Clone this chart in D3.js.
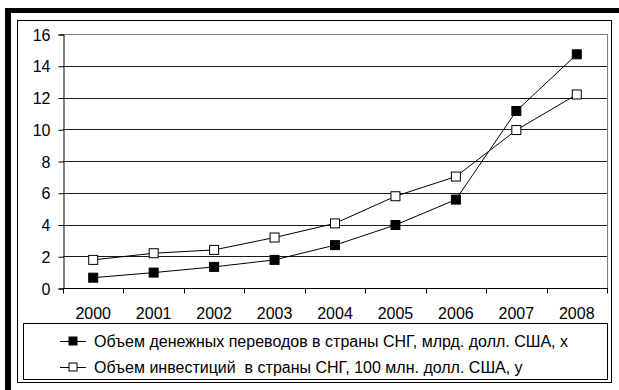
<!DOCTYPE html>
<html>
<head>
<meta charset="utf-8">
<script src="https://cdn.jsdelivr.net/npm/d3@7"></script>
<style>
  html, body { margin: 0; padding: 0; background: #fff; }
  svg { display: block; }
  text { font-family: "Liberation Sans", Arial, sans-serif; fill: #000; }
</style>
</head>
<body>
<svg id="chart" width="619" height="390"></svg>
<script>
// Years on the category axis
const years = ["2000", "2001", "2002", "2003", "2004", "2005", "2006", "2007", "2008"];
// Remittances to CIS countries, bn USD (x)
const remittances = [0.65, 0.97, 1.33, 1.77, 2.7, 3.97, 5.57, 11.15, 14.72];
// Investments to CIS countries, 100 mn USD (y)
const investments = [1.77, 2.19, 2.4, 3.18, 4.07, 5.78, 7.02, 9.95, 12.19];
// Value axis ticks
const yTicks = [0, 2, 4, 6, 8, 10, 12, 14, 16];
// Legend labels
const legendLabels = [
  "Объем денежных переводов в страны СНГ, млрд. долл. США, х",
  "Объем инвестиций  в страны СНГ, 100 млн. долл. США, у"
];

const FONT = "Liberation Sans";
const svg = d3.select("#chart");

// Heavy frame along top and left edges
svg.append("rect").attr("x", 5).attr("y", 8).attr("width", 614).attr("height", 5).attr("fill", "#000");
svg.append("rect").attr("x", 5).attr("y", 8).attr("width", 6).attr("height", 382).attr("fill", "#000");

// Chart area frame
svg.append("rect").attr("x", 17.5).attr("y", 20.5).attr("width", 594).attr("height", 362)
  .attr("fill", "#fff").attr("stroke", "#000").attr("stroke-width", 1);

const plot = { left: 63, right: 607, top: 34, bottom: 288 };

const x = d3.scaleBand().domain(years).range([plot.left, plot.right]);
const y = d3.scaleLinear().domain([0, 16]).range([plot.bottom, plot.top]);

// Horizontal gridlines
svg.append("g").selectAll("line").data(yTicks.filter(d => d > 0)).join("line")
  .attr("x1", plot.left).attr("x2", plot.right)
  .attr("y1", d => Math.round(y(d)) + 0.5).attr("y2", d => Math.round(y(d)) + 0.5)
  .attr("stroke", "#1a1a1a").attr("stroke-width", 1);

// Plot area border (top and right)
svg.append("line").attr("x1", plot.right + 0.5).attr("x2", plot.right + 0.5)
  .attr("y1", plot.top).attr("y2", plot.bottom)
  .attr("stroke", "#808080");
svg.append("line").attr("x1", plot.left).attr("x2", plot.right)
  .attr("y1", Math.round(y(16)) + 0.5).attr("y2", Math.round(y(16)) + 0.5)
  .attr("stroke", "#808080");

// Value axis
const yAxis = svg.append("g")
  .attr("transform", `translate(${plot.left + 0.5},0.5)`)
  .call(d3.axisLeft(y).tickValues(yTicks).tickSize(5).tickPadding(8).tickFormat(d3.format("d")));
yAxis.attr("font-family", FONT).attr("font-size", 16);
yAxis.select(".domain").attr("stroke", "#000");
yAxis.selectAll(".tick line").attr("stroke", "#000");
yAxis.selectAll("text").attr("dy", "0.35em");

// Category axis with ticks between categories
const xAxis = svg.append("g").attr("transform", `translate(0,${plot.bottom + 0.5})`);
xAxis.append("line").attr("x1", plot.left).attr("x2", plot.right + 1).attr("y1", 0).attr("y2", 0).attr("stroke", "#000");
const bounds = years.map(d => x(d)).concat([plot.right]);
xAxis.selectAll("line.tk").data(bounds).join("line").attr("class", "tk")
  .attr("x1", d => Math.round(d) + 0.5).attr("x2", d => Math.round(d) + 0.5)
  .attr("y1", 0).attr("y2", 5).attr("stroke", "#000");
xAxis.selectAll("text").data(years).join("text")
  .attr("x", d => x(d) + x.bandwidth() / 2)
  .attr("y", 30)
  .attr("text-anchor", "middle")
  .attr("font-family", FONT)
  .attr("font-size", 16)
  .text(d => d);

// Series lines and markers
const cx = d => x(d) + x.bandwidth() / 2;
const line = d3.line().x((v, i) => cx(years[i])).y(v => y(v));

const series = [
  { values: remittances, fill: "#000" },
  { values: investments, fill: "#fff" }
];

series.forEach(s => {
  svg.append("path").datum(s.values).attr("d", line)
    .attr("fill", "none").attr("stroke", "#000").attr("stroke-width", 1);
});
series.forEach(s => {
  svg.append("g").selectAll("rect").data(s.values).join("rect")
    .attr("x", (v, i) => cx(years[i]) - 4.5)
    .attr("y", v => y(v) - 4.5)
    .attr("width", 9).attr("height", 9)
    .attr("fill", s.fill).attr("stroke", "#000").attr("stroke-width", 1);
});

// Legend
const lg = svg.append("g");
lg.append("rect").attr("x", 23.5).attr("y", 323.5).attr("width", 584).attr("height", 56)
  .attr("fill", "#fff").attr("stroke", "#000");
const rowsY = [341, 367];
series.forEach((s, i) => {
  const ry = rowsY[i];
  lg.append("line").attr("x1", 60).attr("x2", 86).attr("y1", ry + 0.5).attr("y2", ry + 0.5)
    .attr("stroke", "#000");
  lg.append("rect").attr("x", 69).attr("y", ry - 4).attr("width", 8).attr("height", 8)
    .attr("fill", s.fill).attr("stroke", "#000");
  lg.append("text").attr("x", 94).attr("y", ry + 6)
    .attr("font-family", FONT)
    .attr("font-size", 16)
    .attr("xml:space", "preserve")
    .style("white-space", "pre")
    .text(legendLabels[i]);
});
</script>
</body>
</html>
